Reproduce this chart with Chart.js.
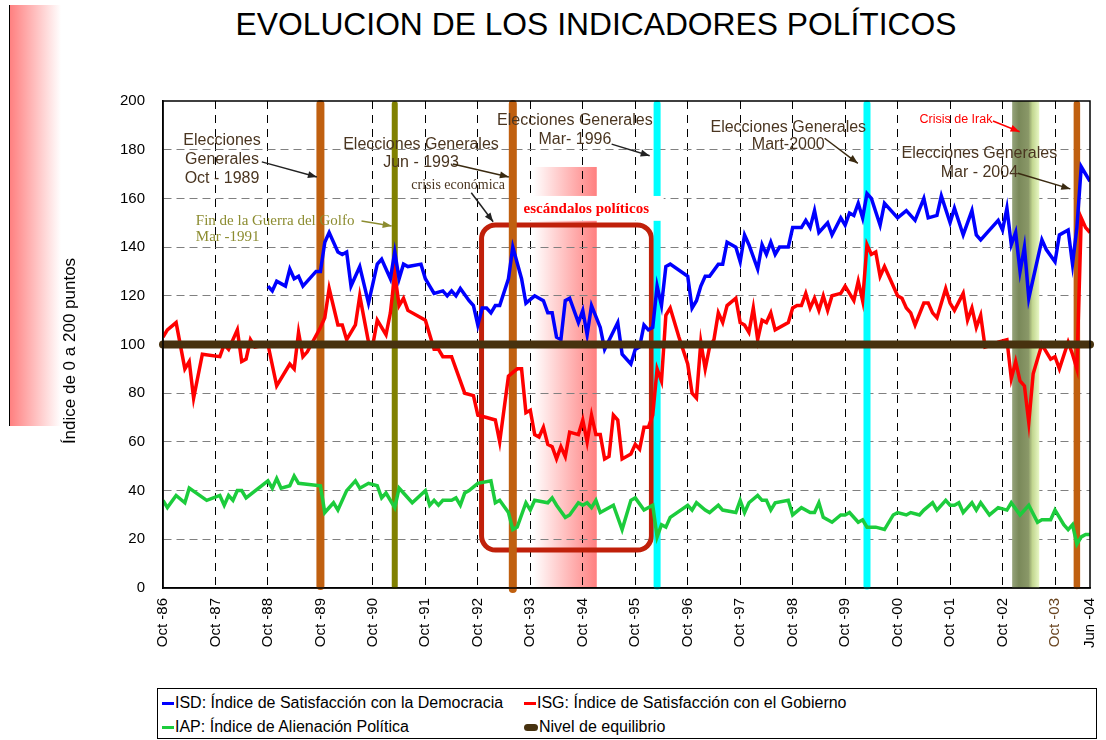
<!DOCTYPE html>
<html>
<head>
<meta charset="utf-8">
<script src="https://cdn.jsdelivr.net/npm/chart.js@4.4.1/dist/chart.umd.min.js"></script>
<style>
  body { margin: 0; background: #fff; font-family: "Liberation Sans", Arial, sans-serif; overflow: hidden; }
  #side { position: absolute; left: 9px; top: 5px; width: 51px; height: 421px; border-left: 1.5px solid #000;
          background: linear-gradient(to right, #ff8080, #ffffff); }
  #title { position: absolute; left: 146px; top: 8px; width: 900px; text-align: center; font-size: 31.8px;
           line-height: 32px; white-space: nowrap; color: #000; }
  #wrap { position: absolute; left: 0; top: 0; width: 1106px; height: 680px; }
  #legend { position: absolute; left: 157px; top: 688px; width: 940px; height: 51px; border: 1px solid #000;
            box-sizing: border-box; padding: 2px 0 0 4px; font-size: 16px; color: #000; }
  .row { display: flex; height: 24px; line-height: 24px; }
  .item { display: flex; align-items: center; white-space: nowrap; }
  .item:first-child { width: 362px; }
  .mark { display: inline-block; width: 12px; height: 3px; margin-right: 1px; }
  .mark.thick { width: 14px; height: 7px; border-radius: 4px; }
</style>
</head>
<body>
<div id="side"></div>
<div id="title">EVOLUCION DE LOS INDICADORES POLÍTICOS</div>
<div id="wrap"><canvas id="c"></canvas></div>
<div id="legend"></div>
<script>
// months counted from Oct 1986 (0) to Jun 2004 (212)
var tickMonths = [0, 12, 24, 36, 48, 60, 72, 84, 96, 108, 120, 132, 144, 156, 168, 180, 192, 204, 212];
var tickLabels = ["Oct -86", "Oct -87", "Oct -88", "Oct -89", "Oct -90", "Oct -91", "Oct -92", "Oct -93", "Oct -94",
  "Oct -95", "Oct -96", "Oct -97", "Oct -98", "Oct -99", "Oct -00", "Oct -01", "Oct -02", "Oct -03", "Jun -04"];

// ISD: satisfaccion con la democracia
var isdMonth = [24,25,26,27,28,29,30,31,32,35,36,37,38,40,41,42,43,45,47,49,50,52,53,54,55,56,59,60,61,62,64,65,66,67,68,
  70,71,72,73,74,75,76,77,79,80,82,83,85,87,88,89,90,91,92,93,95,96,97,98,100,101,104,105,107,108,109,110,111,112,113,114,
  115,116,120,121,122,123,124,125,127,128,129,131,132,133,134,136,137,138,139,140,141,143,144,146,147,148,149,150,152,153,
  155,156,157,158,159,160,161,162,164,165,166,168,170,172,174,175,177,178,180,181,183,185,186,187,189,191,192,193,194,195,
  196,197,198,201,202,204,205,207,208,209,210,212];
var isdValue = [124,122,126,125,124,131,127,128,124,130,130,142,146,138,137,138,124,132,117,133,135,127,138,127,133,132,133,
  127,124,121,122,120,122,120,123,118,116,108,115,115,113,116,116,127,140,127,117,120,118,113,113,103,102,118,119,109,114,
  104,116,107,98,109,96,92,98,99,108,106,107,124,116,132,133,128,115,118,124,128,128,133,133,142,140,134,145,141,131,141,
  137,142,137,140,140,148,148,151,148,155,146,150,145,152,149,154,153,158,152,162,160,149,158,156,152,155,151,160,152,153,
  161,150,156,145,155,145,143,147,151,147,156,141,146,130,140,119,143,139,134,145,147,133,148,173,167];

// ISG: satisfaccion con el gobierno
var isgMonth = [0,1,3,5,6,7,9,13,14,15,17,18,19,20,21,24,26,29,30,31,32,33,36,37,38,40,41,42,44,45,47,48,49,51,52,53,54,55,
  56,60,62,63,64,66,69,71,72,74,76,77,79,81,82,83,84,85,86,87,88,89,90,91,92,93,95,96,97,98,99,100,101,102,103,104,105,107,
  108,109,110,111,112,113,114,115,116,118,120,121,122,123,124,125,126,127,128,129,131,132,133,134,135,136,137,138,139,140,
  143,144,145,146,147,148,149,150,151,152,153,155,156,158,159,160,161,162,163,164,165,166,168,169,170,171,172,174,175,176,
  177,179,180,181,183,184,185,186,187,188,190,191,193,194,195,196,197,198,199,200,201,203,204,205,207,208,209,210,211,212];
var isgValue = [103,106,109,90,93,78,96,95,100,98,106,93,94,102,99,100,83,92,90,105,95,97,107,111,123,108,108,102,108,120,101,
  100,110,104,113,129,116,119,114,110,98,98,95,95,80,79,71,70,69,60,87,90,90,72,73,63,62,66,59,58,53,58,54,64,63,69,60,71,63,
  63,53,54,71,69,53,55,59,57,66,66,71,90,85,112,115,103,92,80,78,101,90,99,102,113,109,116,119,109,108,105,115,102,110,109,
  113,106,109,115,116,116,121,115,119,114,120,114,120,121,124,118,126,118,141,137,138,128,132,128,120,119,115,113,108,117,
  117,113,111,123,117,114,121,110,115,107,112,99,100,101,102,86,93,85,83,68,88,94,100,94,95,90,101,96,90,152,148,146];

// IAP: alienacion politica
var iapMonth = [0,1,3,5,6,10,13,14,15,16,17,18,19,24,25,26,27,29,30,31,36,37,39,40,42,44,45,47,49,50,51,53,54,55,57,60,61,62,
  63,64,66,67,68,69,70,72,75,76,77,79,80,81,83,84,85,88,89,90,92,93,95,96,97,98,99,100,103,105,107,108,110,112,113,114,115,
  116,120,121,122,124,125,127,128,131,132,133,134,136,137,138,139,140,143,144,146,148,149,150,151,153,155,156,157,159,160,
  161,163,165,167,168,170,171,173,174,176,177,179,180,181,182,183,184,185,186,187,189,191,193,194,196,198,200,201,203,204,
  206,207,208,209,210,211,212];
var iapValue = [36,33,38,35,41,36,38,34,38,36,40,40,37,44,41,45,41,42,46,43,42,31,35,32,40,44,41,43,42,37,39,33,41,39,35,40,
  34,36,34,36,36,37,34,39,40,43,44,35,36,31,24,25,35,32,36,35,37,34,29,30,35,34,35,33,36,31,34,24,36,37,32,34,21,26,25,29,
  34,32,35,32,31,34,32,31,36,31,35,38,36,36,32,35,36,30,33,31,31,35,29,27,30,30,31,27,28,25,25,24,30,31,30,31,30,32,35,32,
  36,34,34,35,31,33,35,32,35,30,33,32,35,30,34,27,28,28,32,26,24,26,18,21,22,22];

// nivel de equilibrio
var eqMonth = [0, 212];
var eqValue = [100, 100];

function pts(ms, vs) { return ms.map(function (m, i) { return { x: m, y: vs[i] }; }); }

var brown = "#c06010";
var noteColor = "#4a3520";
var events = [
  { m: 36, color: brown, w: 8 },
  { m: 53, color: "#808000", w: 6 },
  { m: 80, color: brown, w: 8, low: true },
  { m: 113, color: "#00ffff", w: 7 },
  { m: 161, color: "#00ffff", w: 7 },
  { m: 209, color: brown, w: 6.5 }
];

var notes = [
  { m: 13.5, v: [183.6, 175.8, 168], lines: ["Elecciones", "Generales", "Oct - 1989"], font: "16px 'Liberation Sans'", color: noteColor },
  { m: 59, v: [182.3, 174.5], lines: ["Elecciones Generales", "Jun - 1993"], font: "16px 'Liberation Sans'", color: noteColor },
  { m: 67.5, v: [165.3], lines: ["crisis económica"], font: "14px 'Liberation Serif'", color: noteColor },
  { m: 7.5, v: [150.7, 144.3], lines: ["Fin de la Guerra del Golfo", "Mar -1991"], font: "15px 'Liberation Serif'", color: "#8c8c30", align: "left" },
  { m: 94.2, v: [191.8, 184.3], lines: ["Elecciones Generales", "Mar- 1996"], font: "16px 'Liberation Sans'", color: noteColor },
  { m: 143, v: [189.2, 181.9], lines: ["Elecciones Generales", "Mart-2000"], font: "16px 'Liberation Sans'", color: noteColor },
  { m: 173, v: [192.2], lines: ["Crisis de Irak"], font: "12.5px 'Liberation Sans'", color: "#ff0000", align: "left" },
  { m: 186.7, v: [178.5, 170.7], lines: ["Elecciones Generales", "Mar - 2004"], font: "16px 'Liberation Sans'", color: noteColor }
];

var arrows = [
  { from: [22.6, 175], to: [35.2, 168.8], color: "#222" },
  { from: [66.3, 174.1], to: [79.1, 168.8], color: "#3a2a10" },
  { from: [70.5, 162.3], to: [75.5, 150.4], color: "#222" },
  { from: [45.4, 150.7], to: [52.3, 148.7], color: "#8c8c30" },
  { from: [102.6, 182.3], to: [111.3, 177.5], color: "#222" },
  { from: [151.3, 184.7], to: [158.9, 174.4], color: "#3a2a10" },
  { from: [189.8, 191.8], to: [195.9, 187.4], color: "#ff0000" },
  { from: [195.5, 170.3], to: [207.5, 163.9], color: "#3a2a10" }
];

function drawArrow(ctx, x1, y1, x2, y2, color) {
  ctx.save();
  ctx.strokeStyle = color; ctx.fillStyle = color; ctx.lineWidth = 1.5;
  ctx.beginPath(); ctx.moveTo(x1, y1); ctx.lineTo(x2, y2); ctx.stroke();
  var a = Math.atan2(y2 - y1, x2 - x1), L = 9, W = 3.5;
  ctx.beginPath();
  ctx.moveTo(x2, y2);
  ctx.lineTo(x2 - L * Math.cos(a) + W * Math.sin(a), y2 - L * Math.sin(a) - W * Math.cos(a));
  ctx.lineTo(x2 - L * Math.cos(a) - W * Math.sin(a), y2 - L * Math.sin(a) + W * Math.cos(a));
  ctx.closePath(); ctx.fill();
  ctx.restore();
}

function roundRect(ctx, x, y, w, h, r) {
  ctx.beginPath();
  ctx.moveTo(x + r, y);
  ctx.arcTo(x + w, y, x + w, y + h, r);
  ctx.arcTo(x + w, y + h, x, y + h, r);
  ctx.arcTo(x, y + h, x, y, r);
  ctx.arcTo(x, y, x + w, y, r);
  ctx.closePath();
}

var overlay = {
  id: "overlay",
  beforeDraw: function (chart) {
    var ctx = chart.ctx, a = chart.chartArea, x = chart.scales.x, y = chart.scales.y;
    // escandalos politicos band
    var l = x.getPixelForValue(84.6), r = x.getPixelForValue(99.2), t = y.getPixelForValue(172.9);
    var g = ctx.createLinearGradient(l, 0, r, 0);
    g.addColorStop(0, "rgba(255,128,128,0)");
    g.addColorStop(1, "#ff8080");
    ctx.save(); ctx.fillStyle = g; ctx.fillRect(l, t, r - l, a.bottom - t); ctx.restore();
  },
  beforeDatasetsDraw: function (chart) {
    var ctx = chart.ctx, a = chart.chartArea, x = chart.scales.x, y = chart.scales.y;
    ctx.save();
    // crisis de Irak band
    var il = x.getPixelForValue(194.2), ir = x.getPixelForValue(200.4);
    var g = ctx.createLinearGradient(il, 0, ir, 0);
    g.addColorStop(0, "#95a37a"); g.addColorStop(0.25, "#7a895a"); g.addColorStop(0.6, "#8a9868");
    g.addColorStop(0.75, "#c2d690"); g.addColorStop(1, "#e8f7c4");
    ctx.fillStyle = g; ctx.fillRect(il, a.top, ir - il, a.bottom - a.top);
    // rounded box
    var bl = x.getPixelForValue(72.85), br = x.getPixelForValue(111.7);
    var bt = y.getPixelForValue(149.1), bb = y.getPixelForValue(15.6);
    ctx.strokeStyle = "#c0200a"; ctx.lineWidth = 5;
    roundRect(ctx, bl, bt, br - bl, bb - bt, 14); ctx.stroke();
    // event bars
    ctx.lineCap = "round";
    events.forEach(function (e) {
      var px = x.getPixelForValue(e.m);
      ctx.strokeStyle = e.color; ctx.lineWidth = e.w;
      ctx.beginPath(); ctx.moveTo(px, a.top + 3); ctx.lineTo(px, a.bottom + (e.low ? 1 : -2)); ctx.stroke();
    });
    // white label box
    var wl = x.getPixelForValue(81.6), wr = x.getPixelForValue(114.5);
    var wt = y.getPixelForValue(161), wb = y.getPixelForValue(150.8);
    ctx.fillStyle = "#fff"; ctx.fillRect(wl, wt, wr - wl, wb - wt);
    ctx.restore();
  },
  afterDatasetsDraw: function (chart) {
    var ctx = chart.ctx, a = chart.chartArea, x = chart.scales.x, y = chart.scales.y;
    ctx.save();
    // frame
    ctx.strokeStyle = "#000"; ctx.lineWidth = 1.5;
    ctx.strokeRect(a.left, a.top, a.right - a.left, a.bottom - a.top);
    // notes
    ctx.textBaseline = "middle";
    notes.forEach(function (n) {
      ctx.font = n.font; ctx.fillStyle = n.color; ctx.textAlign = n.align || "center";
      n.lines.forEach(function (s, i) { ctx.fillText(s, x.getPixelForValue(n.m), y.getPixelForValue(n.v[i])); });
    });
    arrows.forEach(function (r) {
      drawArrow(ctx, x.getPixelForValue(r.from[0]), y.getPixelForValue(r.from[1]),
        x.getPixelForValue(r.to[0]), y.getPixelForValue(r.to[1]), r.color);
    });
    ctx.font = "bold 15px 'Liberation Serif'"; ctx.fillStyle = "#ff0000"; ctx.textAlign = "center";
    ctx.fillText("escándalos políticos", x.getPixelForValue(96.8), y.getPixelForValue(155.6));
    // y title
    ctx.translate(70, 351); ctx.rotate(-Math.PI / 2);
    ctx.font = "17px 'Liberation Sans'"; ctx.fillStyle = "#000";
    ctx.fillText("Índice de 0 a 200 puntos", 0, 0);
    ctx.restore();
  }
};

Chart.defaults.font.family = "'Liberation Sans', Arial, sans-serif";

var chart = new Chart(document.getElementById("c"), {
  type: "line",
  data: {
    datasets: [
      { label: "ISD: Índice de Satisfacción con la Democracia", data: pts(isdMonth, isdValue), borderColor: "#0000ff",
        borderWidth: 3.5, pointRadius: 0, order: 2 },
      { label: "ISG: Índice de Satisfacción con el Gobierno", data: pts(isgMonth, isgValue), borderColor: "#ff0000",
        borderWidth: 3.5, pointRadius: 0, order: 2 },
      { label: "IAP: Índice de Alienación Política", data: pts(iapMonth, iapValue), borderColor: "#1ccc3c",
        borderWidth: 3.5, pointRadius: 0, order: 2 },
      { label: "Nivel de equilibrio", data: pts(eqMonth, eqValue), borderColor: "#47320f", borderWidth: 8,
        borderCapStyle: "round", pointRadius: 0, order: 0, clip: false }
    ]
  },
  options: {
    responsive: true,
    maintainAspectRatio: false,
    animation: false,
    layout: { padding: { top: 101, right: 16, left: 0, bottom: 0 } },
    plugins: { legend: { display: false }, tooltip: { enabled: false } },
    scales: {
      x: {
        type: "linear", min: 0, max: 212,
        afterBuildTicks: function (s) { s.ticks = tickMonths.map(function (v) { return { value: v }; }); },
        afterFit: function (s) { s.height = 92; s.paddingLeft = 0; s.paddingRight = 0; },
        ticks: {
          autoSkip: false, minRotation: 90, maxRotation: 90, padding: 10, font: { size: 15 },
          color: function (c) { return tickLabels[c.index] === "Oct -03" ? "#6a4520" : "#000"; },
          callback: function (v, i) { return tickLabels[i]; }
        },
        grid: {
          drawTicks: false, lineWidth: 1,
          color: function (c) { return (c.index === 0 || c.index === tickMonths.length - 1) ? "rgba(0,0,0,0)" : "#000"; }
        },
        border: { display: true, color: "#000", width: 1.5, dash: [8, 6] }
      },
      y: {
        min: 0, max: 200,
        afterFit: function (s) { s.width = 163; },
        ticks: { stepSize: 20, padding: 18, font: { size: 15 }, color: "#000" },
        grid: {
          drawTicks: false, lineWidth: 1,
          color: function (c) { return (c.tick.value === 0 || c.tick.value === 200) ? "rgba(0,0,0,0)" : "#808080"; }
        },
        border: { display: true, color: "#000", width: 1.5, dash: [8, 5] }
      }
    }
  },
  plugins: [overlay]
});

// legend built from the datasets
var legendEl = document.getElementById("legend");
var row;
chart.data.datasets.forEach(function (ds, i) {
  if (i % 2 === 0) { row = document.createElement("div"); row.className = "row"; legendEl.appendChild(row); }
  var item = document.createElement("div"); item.className = "item";
  var mk = document.createElement("span"); mk.className = "mark" + (ds.borderWidth > 5 ? " thick" : "");
  mk.style.background = ds.borderColor;
  item.appendChild(mk);
  item.appendChild(document.createTextNode(ds.label));
  row.appendChild(item);
});
</script>
</body>
</html>
